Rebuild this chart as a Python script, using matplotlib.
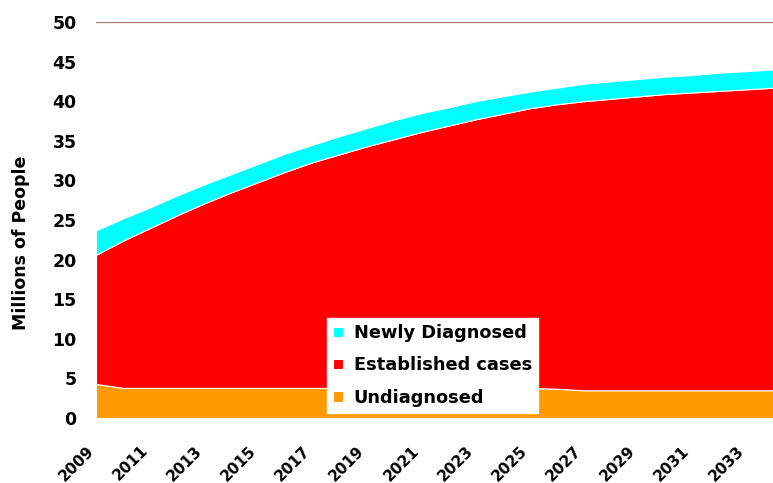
import matplotlib.pyplot as plt
from matplotlib.transforms import ScaledTranslation

years = list(range(2009, 2035))
undiagnosed = [4.3, 3.8, 3.8, 3.8, 3.8, 3.8, 3.8, 3.8, 3.8, 3.8, 3.8, 3.8, 3.8,
               3.8, 3.8, 3.8, 3.8, 3.7, 3.5, 3.5, 3.5, 3.5, 3.5, 3.5, 3.5, 3.5]
established = [16.3, 18.6, 20.2, 21.8, 23.3, 24.7, 26.0, 27.3, 28.5, 29.5, 30.5,
               31.4, 32.3, 33.1, 33.9, 34.6, 35.3, 35.9, 36.5, 36.8, 37.1, 37.4,
               37.6, 37.8, 38.0, 38.2]
newly = [3.1, 2.8, 2.6, 2.5, 2.4, 2.3, 2.3, 2.3, 2.2, 2.3, 2.3, 2.4, 2.4, 2.3,
         2.3, 2.2, 2.1, 2.1, 2.2, 2.2, 2.2, 2.2, 2.2, 2.3, 2.3, 2.3]
labels = ['Undiagnosed', 'Established cases', 'Newly Diagnosed']
colors = ['#ff9900', '#ff0000', '#00ffff']

plt.rcParams['font.family'] = ['DejaVu Sans']
plt.rcParams['font.weight'] = 'bold'

fig = plt.figure(figsize=(7.73, 4.83), dpi=100)
ax = fig.add_axes([96 / 773, 65 / 483, 677 / 773, 396 / 483])

ax.stackplot(years, undiagnosed, established, newly, labels=labels,
             colors=colors, edgecolor='white', linewidth=0.8)
ax.axhline(50, color='#a87e6a', lw=1.6)

ax.set_xlim(2009, 2034)
ax.set_ylim(0, 50)
ax.set_yticks(range(0, 51, 5))
ax.set_xticks(range(2009, 2034, 2))
ax.tick_params(length=0)
ax.tick_params(axis='y', labelsize=12.5, pad=14)
ax.tick_params(axis='x', labelsize=11, pad=18)
# move the slanted year labels a little to the left of their ticks
shift = ScaledTranslation(-10 / 100, 0, fig.dpi_scale_trans)
for t in ax.xaxis.get_majorticklabels():
    t.set_rotation(45)
    t.set_ha('right')
    t.set_rotation_mode('anchor')
    t.set_transform(t.get_transform() + shift)
for s in ax.spines.values():
    s.set_visible(False)
ax.set_ylabel('Millions of People', fontsize=12.5, fontweight='bold')
ax.yaxis.set_label_coords(-0.097, 0.442)

h, l = ax.get_legend_handles_labels()
leg = ax.legend(h[::-1], l[::-1], loc='lower left', bbox_to_anchor=(0.341, 0.013),
                fontsize=12.8, frameon=True, fancybox=False, framealpha=1,
                edgecolor='white', handlelength=0.55, handleheight=0.55,
                handletextpad=0.6, borderpad=0.35, labelspacing=0.8,
                borderaxespad=0)

fig.savefig('out.png', dpi=100)
